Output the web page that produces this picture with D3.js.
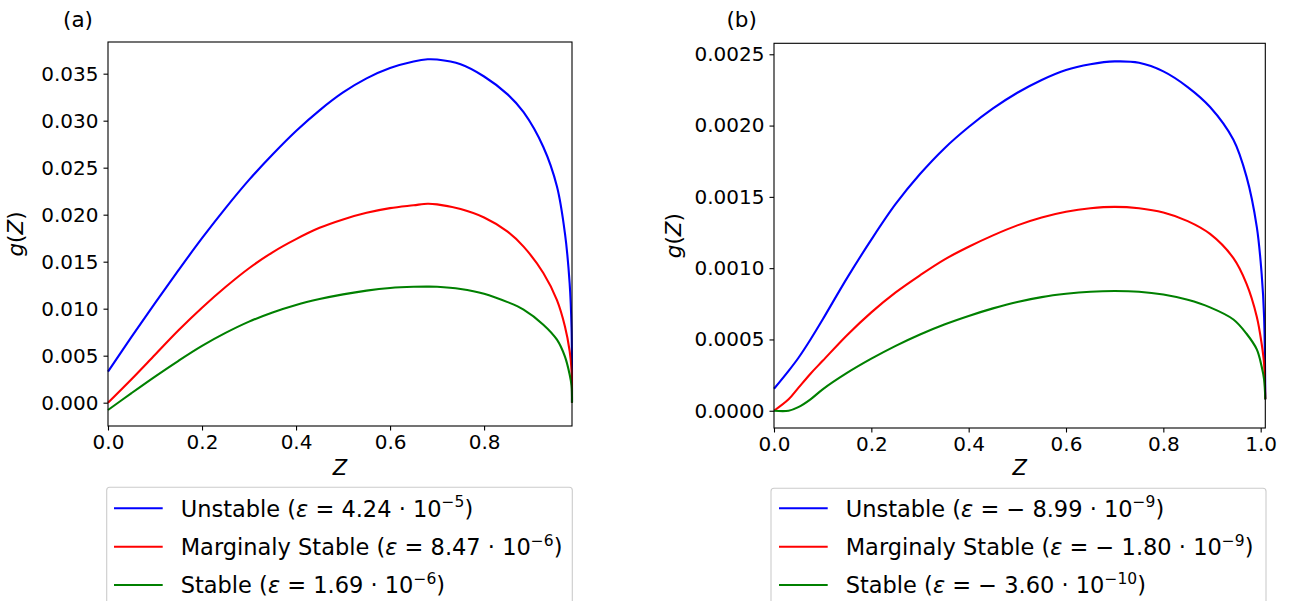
<!DOCTYPE html>
<html>
<head>
<meta charset="utf-8">
<script src="https://cdn.jsdelivr.net/npm/d3@7"></script>
<style>
  body { margin: 0; background: #fff; }
  text { font-family: "DejaVu Sans", sans-serif; fill: #000; }
</style>
</head>
<body>
<svg id="chart" width="1297" height="601"></svg>
<script>

// Panel (a) curves
let zA = [0, 0.05, 0.1, 0.15, 0.2, 0.25, 0.3, 0.35, 0.4, 0.45, 0.5, 0.55, 0.6, 0.65, 0.68, 0.7, 0.75, 0.8, 0.85, 0.884, 0.926, 0.955, 0.972, 0.982, 0.986, 0.987];
let blueA = [0.0033, 0.0070, 0.0106, 0.0141, 0.0175, 0.0207, 0.0237, 0.0264, 0.0289, 0.0311, 0.0330, 0.0345, 0.0356, 0.0363, 0.03653, 0.0365, 0.0360, 0.0347, 0.0328, 0.0309, 0.0272, 0.0230, 0.0180, 0.0127, 0.0080, 0.0];
let redA = [0.0, 0.0025, 0.0051, 0.0077, 0.0101, 0.0123, 0.0143, 0.0160, 0.0174, 0.0186, 0.0195, 0.0202, 0.0207, 0.0210, 0.02117, 0.0211, 0.0206, 0.0197, 0.0182, 0.0166, 0.0138, 0.0109, 0.0081, 0.0055, 0.0035, 0.0];
let greenA = [-0.00078, 0.00102, 0.00278, 0.00446, 0.00604, 0.00742, 0.00862, 0.0096, 0.0104, 0.01102, 0.01152, 0.01192, 0.0122, 0.01233, 0.01235, 0.01233, 0.0121, 0.0116, 0.0107, 0.0099, 0.0083, 0.0067, 0.0049, 0.0030, 0.0018, 0.0];

// Panel (b) curves
let zB = [0, 0.03, 0.05, 0.075, 0.1, 0.15, 0.2, 0.25, 0.3, 0.35, 0.4, 0.45, 0.5, 0.55, 0.6, 0.65, 0.7, 0.75, 0.8, 0.85, 0.896, 0.944, 0.971, 0.992, 1.002, 1.007, 1.0095];
let blueB = [0.000154, 0.00028, 0.00037, 0.00050, 0.00064, 0.00093, 0.00120, 0.00145, 0.00166, 0.00184, 0.00199, 0.00212, 0.00223, 0.00232, 0.00239, 0.00243, 0.00245, 0.00244, 0.00238, 0.00227, 0.00213, 0.00190, 0.00164, 0.00129, 0.00096, 0.00066, 0.00008];
let redB = [0.0, 0.00008, 0.00016, 0.00026, 0.00035, 0.00053, 0.00069, 0.00083, 0.00095, 0.00106, 0.00115, 0.00123, 0.00130, 0.001355, 0.001395, 0.00142, 0.00143, 0.00142, 0.00139, 0.00133, 0.00124, 0.00107, 0.00089, 0.00066, 0.00047, 0.00033, 0.00008];
let greenB = [0, 0, 0.000025, 0.00008, 0.00015, 0.000265, 0.000365, 0.000455, 0.000535, 0.000605, 0.000665, 0.000718, 0.000763, 0.000797, 0.00082, 0.000835, 0.00084, 0.000835, 0.000815, 0.000778, 0.000725, 0.00064, 0.00054, 0.00043, 0.00031, 0.00022, 0.00008];

// ticks
let xTicksA = [0, 0.2, 0.4, 0.6, 0.8];
let yTicksA = [0, 0.005, 0.01, 0.015, 0.02, 0.025, 0.03, 0.035];
let xTicksB = [0, 0.2, 0.4, 0.6, 0.8, 1.0];
let yTicksB = [0, 0.0005, 0.001, 0.0015, 0.002, 0.0025];

// legend entries
let seriesNames = ["Unstable", "Marginaly Stable", "Stable"];
let seriesColors = ["#0000ff", "#ff0000", "#008000"];
let epsA = ["4.24", "8.47", "1.69"];
let expA = ["\u22125", "\u22126", "\u22126"];
let epsB = ["\u2212 8.99", "\u2212 1.80", "\u2212 3.60"];
let expB = ["\u22129", "\u22129", "\u221210"];

let svg = d3.select("#chart");

function drawPanel(opt){
    let x = d3.scaleLinear().domain(opt.xDomain).range([opt.left, opt.right]);
    let y = d3.scaleLinear().domain(opt.yDomain).range([opt.bottom, opt.top]);

    let g = svg.append("g");

    // curves
    let line = d3.line()
        .x(d => x(d[0]))
        .y(d => y(d[1]))
        .curve(d3.curveCatmullRom.alpha(0.5));

    opt.series.forEach(function(vals, i){
        let pts = opt.z.map((z, j) => [z, vals[j]]);
        g.append("path")
            .attr("d", line(pts))
            .attr("fill", "none")
            .attr("stroke", seriesColors[i])
            .attr("stroke-width", 2.1);
    });

    // frame
    g.append("rect")
        .attr("x", opt.left)
        .attr("y", opt.top)
        .attr("width", opt.right - opt.left)
        .attr("height", opt.bottom - opt.top)
        .attr("fill", "none")
        .attr("stroke", "#000")
        .attr("stroke-width", 1.1);

    let xAxis = d3.axisBottom(x).tickValues(opt.xTicks).tickFormat(d3.format(".1f")).tickSize(4.5).tickPadding(4);
    let yAxis = d3.axisLeft(y).tickValues(opt.yTicks).tickFormat(d3.format(opt.yFmt)).tickSize(4.5).tickPadding(5);

    let gx = g.append("g").attr("transform", "translate(0," + opt.bottom + ")").call(xAxis);
    let gy = g.append("g").attr("transform", "translate(" + opt.left + ",0)").call(yAxis);
    [gx, gy].forEach(function(a){
        a.select(".domain").remove();
        a.selectAll("line").attr("stroke", "#000").attr("stroke-width", 1.1);
        a.selectAll("text")
            .style("font-family", "DejaVu Sans")
            .style("font-size", "20px")
            .attr("fill", "#000");
    });

    // panel tag
    g.append("text")
        .attr("x", opt.tagX)
        .attr("y", 27)
        .attr("text-anchor", "middle")
        .style("font-size", "21.5px")
        .text(opt.tag);

    // axis labels
    g.append("text")
        .attr("x", (opt.left + opt.right) / 2)
        .attr("y", 475)
        .attr("text-anchor", "middle")
        .style("font-size", "21px")
        .style("font-style", "italic")
        .text("Z");

    let yl = g.append("text")
        .attr("transform", "translate(" + opt.yLabelX + "," + ((opt.top + opt.bottom) / 2) + ") rotate(-90)")
        .attr("text-anchor", "middle")
        .style("font-size", "21.5px");
    yl.append("tspan").style("font-style", "italic").text("g");
    yl.append("tspan").text("(");
    yl.append("tspan").style("font-style", "italic").text("Z");
    yl.append("tspan").text(")");

    // legend
    let lg = g.append("g");
    lg.append("rect")
        .attr("x", opt.legX0)
        .attr("y", opt.legTop)
        .attr("width", opt.legX1 - opt.legX0)
        .attr("height", 140)
        .attr("rx", 3)
        .attr("fill", "#fff")
        .attr("fill-opacity", 0.8)
        .attr("stroke", "#cccccc")
        .attr("stroke-width", 1.1);

    let rowY = [508.3, 546.7, 585];
    seriesNames.forEach(function(name, i){
        lg.append("line")
            .attr("x1", opt.handleX0)
            .attr("x2", opt.handleX0 + 48.7)
            .attr("y1", rowY[i])
            .attr("y2", rowY[i])
            .attr("stroke", seriesColors[i])
            .attr("stroke-width", 2.1);

        let t = lg.append("text")
            .attr("x", opt.handleX0 + 66.7)
            .attr("y", rowY[i] + 8.4)
            .style("font-size", "22.5px");
        t.append("tspan").text(name + " (");
        t.append("tspan").style("font-style", "italic").text("\u03b5");
        t.append("tspan").text(" = " + opt.eps[i] + " \u00b7 10");
        t.append("tspan").attr("dy", -9.5).style("font-size", "15.5px").text(opt.exp[i]);
        t.append("tspan").attr("dy", 9.5).text(")");
    });
}

drawPanel({
    left: 108, right: 572, top: 42, bottom: 426,
    xDomain: [0, 0.987], yDomain: [-0.00248, 0.03837],
    z: zA, series: [blueA, redA, greenA],
    xTicks: xTicksA, yTicks: yTicksA, yFmt: ".3f",
    tag: "(a)", tagX: 78, yLabelX: 23,
    legX0: 106.7, legX1: 572.3, legTop: 487.3, handleX0: 114,
    eps: epsA, exp: expA
});

drawPanel({
    left: 774, right: 1265.3, top: 43.3, bottom: 428,
    xDomain: [0, 1.0095], yDomain: [-0.000121, 0.002577],
    z: zB, series: [blueB, redB, greenB],
    xTicks: xTicksB, yTicks: yTicksB, yFmt: ".4f",
    tag: "(b)", tagX: 741.7, yLabelX: 681,
    legX0: 771, legX1: 1266, legTop: 488.3, handleX0: 779,
    eps: epsB, exp: expB
});

</script>
</body>
</html>
